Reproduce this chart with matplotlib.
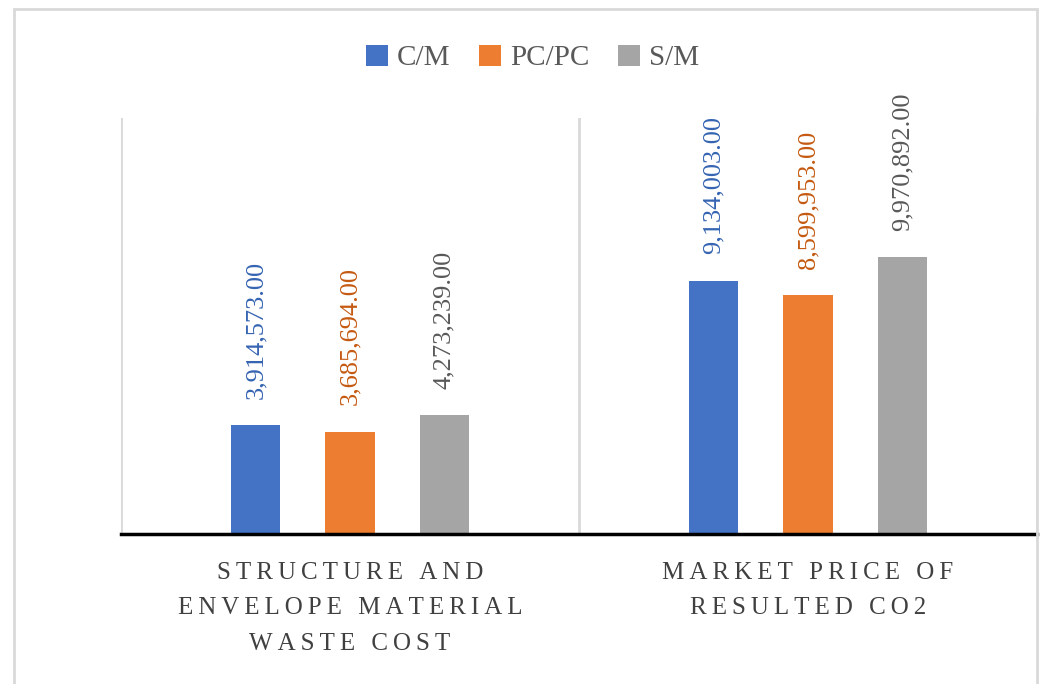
import numpy as np
import matplotlib
matplotlib.use("Agg")
import matplotlib.pyplot as plt
from matplotlib.patches import Rectangle, Patch

plt.rcParams['font.family'] = ['Liberation Serif', 'DejaVu Serif']

categories = ["STRUCTURE AND\nENVELOPE MATERIAL\nWASTE COST", "MARKET PRICE OF\nRESULTED CO2"]
series = ["C/M", "PC/PC", "S/M"]
cm_vals = [3914573.00, 9134003.00]
pcpc_vals = [3685694.00, 8599953.00]
sm_vals = [4273239.00, 9970892.00]

bar_colors = ["#4472C4", "#ED7D31", "#A5A5A5"]
label_colors = ["#3564B2", "#C55A11", "#595959"]


def spaced(text):
    # widen the letter spacing with thin spaces
    lines = []
    for line in text.split("\n"):
        words = ["\u2009".join(w) for w in line.split(" ")]
        lines.append("\u2009 \u2009".join(words))
    return "\n".join(lines)


fig = plt.figure(figsize=(10.44, 6.84), dpi=100)
fig.patches.append(Rectangle((14 / 1044, -0.05), (1037 - 14) / 1044, 1.05 - 9 / 684,
                             transform=fig.transFigure, fill=False,
                             edgecolor="#D9D9D9", lw=2, zorder=0))

ax = fig.add_axes([121 / 1044, 1 - 534 / 684, (1037 - 121) / 1044, (534 - 118) / 684])
x = np.arange(len(categories))
width = 0.107
step = 0.206

for i, (vals, name) in enumerate(zip([cm_vals, pcpc_vals, sm_vals], series)):
    pos = x + (i - 1) * step
    ax.bar(pos, vals, width, color=bar_colors[i], label=name, zorder=3)
    for px, v in zip(pos, vals):
        ax.annotate(f"{v:,.2f}", (px, v), xytext=(0, 19), textcoords="offset points",
                    rotation=90, ha="center", va="bottom", fontsize=19,
                    color=label_colors[i])

ax.set_xlim(-0.5, 1.5)
ax.set_ylim(0, 15e6)
for xv in [-0.5, 0.5, 1.5]:
    ax.axvline(xv, color="#D9D9D9", lw=2, zorder=1)
for s in ["top", "left", "right"]:
    ax.spines[s].set_visible(False)
ax.spines["bottom"].set_color("black")
ax.spines["bottom"].set_linewidth(2.5)
ax.spines["bottom"].set_zorder(4)
ax.set_xticks([])
ax.set_yticks([])

for xi, cat in zip(x, categories):
    ax.annotate(spaced(cat), (xi, 0), xytext=(0, -20), textcoords="offset points",
                ha="center", va="top", fontsize=18, color="#404040",
                linespacing=1.8, multialignment="center")

handles = [Patch(facecolor=c, label=s) for c, s in zip(bar_colors, series)]
fig.legend(handles=handles, loc="center", bbox_to_anchor=(0.51, 1 - 58 / 684), ncol=3,
           frameon=False, fontsize=21, handlelength=0.75, handleheight=0.75,
           handletextpad=0.3, columnspacing=1.0, labelcolor="#595959")

fig.savefig("out.png", dpi=100)
